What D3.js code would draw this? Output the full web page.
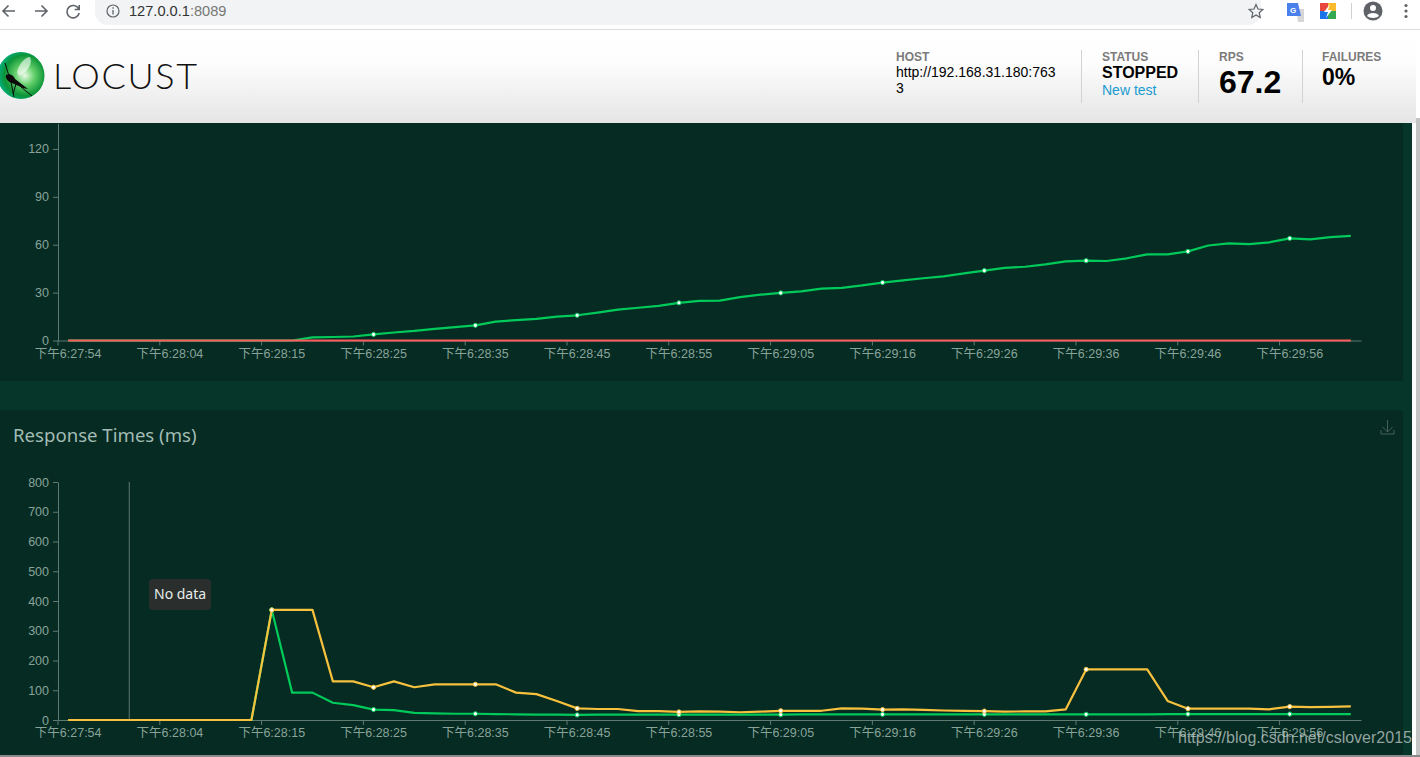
<!DOCTYPE html>
<html>
<head>
<meta charset="utf-8">
<title>Locust</title>
<style>
html, body { margin: 0; padding: 0; background: #fff; overflow: hidden; }
svg { display: block; font-family: "Liberation Sans", "Noto Sans CJK SC", sans-serif; }
.axis text { fill: #89a399; font-size: 12.5px; font-family: "Liberation Sans", "Noto Sans CJK SC", sans-serif; }
.axis path, .axis line { stroke: #5f7a71; }
</style>
<script src="https://cdnjs.cloudflare.com/ajax/libs/d3/7.8.5/d3.min.js"></script>
</head>
<body>
<div id="page"></div>
<script>
var categories = [
  '下午6:27:54','下午6:27:56','下午6:27:58','下午6:28:00','下午6:28:02',
  '下午6:28:04','下午6:28:06','下午6:28:08','下午6:28:11','下午6:28:13',
  '下午6:28:15','下午6:28:17','下午6:28:19','下午6:28:21','下午6:28:23',
  '下午6:28:25','下午6:28:27','下午6:28:29','下午6:28:31','下午6:28:33',
  '下午6:28:35','下午6:28:37','下午6:28:39','下午6:28:41','下午6:28:43',
  '下午6:28:45','下午6:28:47','下午6:28:49','下午6:28:51','下午6:28:53',
  '下午6:28:55','下午6:28:57','下午6:28:59','下午6:29:01','下午6:29:03',
  '下午6:29:05','下午6:29:07','下午6:29:09','下午6:29:12','下午6:29:14',
  '下午6:29:16','下午6:29:18','下午6:29:20','下午6:29:22','下午6:29:24',
  '下午6:29:26','下午6:29:28','下午6:29:30','下午6:29:32','下午6:29:34',
  '下午6:29:36','下午6:29:38','下午6:29:40','下午6:29:42','下午6:29:44',
  '下午6:29:46','下午6:29:48','下午6:29:50','下午6:29:52','下午6:29:54',
  '下午6:29:56','下午6:29:58','下午6:30:00','下午6:30:02'
];

var rps = [
  0,0,0,0,0,0,0,0,0,0,
  0,0,2,2.2,2.5,3.8,5,6,7.3,8.4,
  9.5,11.8,12.8,13.5,15,15.8,17.5,19.3,20.5,21.7,
  23.6,24.8,25,27.2,28.7,29.8,30.8,32.5,33,34.5,
  36.3,37.7,39,40.2,42,43.8,45.5,46.2,47.7,49.6,
  50,49.8,51.5,54,54,55.8,59.5,60.8,60.4,61.5,
  64,63.3,64.8,65.5
];
var failures = [
  0,0,0,0,0,0,0,0,0,0,0,0,0,0,0,0,
  0,0,0,0,0,0,0,0,0,0,0,0,0,0,0,0,
  0,0,0,0,0,0,0,0,0,0,0,0,0,0,0,0,
  0,0,0,0,0,0,0,0,0,0,0,0,0,0,0,0
];
var median = [
  0,0,0,0,0,0,0,0,0,0,
  370,92,92,58,50,35,33,24,22,21,
  21,20,19,18,18,17,18,18,18,18,
  18,18,18,18,18,18,19,19,19,19,
  19,19,19,19,19,19,19,19,19,19,
  19,19,19,19,20,20,20,20,20,20,
  20,20,20,20
];
var p95 = [
  0,0,0,0,0,0,0,0,0,0,
  370,370,370,130,130,110,130,110,120,120,
  120,120,92,87,64,39,37,37,30,30,
  27,29,28,26,28,31,31,31,39,38,
  35,36,34,32,31,30,28,29,29,36,
  170,170,170,170,64,38,38,38,38,36,
  45,43,44,46
];

var rpsTicks = [0, 30, 60, 90, 120];
var timeTicks = [0, 100, 200, 300, 400, 500, 600, 700, 800];

var svg = d3.select('#page').append('svg')
    .attr('width', 1420)
    .attr('height', 757);

var defs = svg.append('defs');
var headGrad = defs.append('linearGradient').attr('id', 'head-grad')
    .attr('x1', 0).attr('y1', 0).attr('x2', 0).attr('y2', 1);
headGrad.append('stop').attr('offset', '0%').attr('stop-color', '#ffffff');
headGrad.append('stop').attr('offset', '35%').attr('stop-color', '#fdfdfd');
headGrad.append('stop').attr('offset', '100%').attr('stop-color', '#e5e5e5');
var ballGrad = defs.append('radialGradient').attr('id', 'ball-grad')
    .attr('cx', '58%').attr('cy', '50%').attr('r', '60%');
ballGrad.append('stop').attr('offset', '0%').attr('stop-color', '#eafbe6');
ballGrad.append('stop').attr('offset', '35%').attr('stop-color', '#63cf6a');
ballGrad.append('stop').attr('offset', '72%').attr('stop-color', '#0c9438');
ballGrad.append('stop').attr('offset', '100%').attr('stop-color', '#00b48c');

// page background
svg.append('rect').attr('width', 1420).attr('height', 757).attr('fill', '#ffffff');
svg.append('rect').attr('x', 0).attr('y', 123).attr('width', 1412).attr('height', 632).attr('fill', '#06352a');
svg.append('rect').attr('x', 0).attr('y', 123).attr('width', 1403).attr('height', 258).attr('fill', '#052b23');
svg.append('rect').attr('x', 0).attr('y', 410).attr('width', 1403).attr('height', 345).attr('rx', 3).attr('fill', '#052b23');
svg.append('rect').attr('x', 0).attr('y', 755).attr('width', 1420).attr('height', 2).attr('fill', '#8a8a8a');
svg.append('rect').attr('x', 1416).attr('y', 118).attr('width', 4).attr('height', 637).attr('fill', '#c4c4c4');

var x = d3.scaleBand().domain(categories).range([58, 1361]);
var yRps = d3.scaleLinear().domain([0, 136]).range([340.5, 123.4]);
var yTime = d3.scaleLinear().domain([0, 800]).range([720, 482]);

function drawAxes(y, ticks) {
    var g = svg.append('g');
    var xAxis = d3.axisBottom(x)
        .tickValues(categories.filter(function(d, i) { return i % 5 === 0; }))
        .tickSize(5)
        .tickSizeOuter(0)
        .tickPadding(3.5);
    g.append('g')
        .attr('class', 'axis')
        .attr('transform', 'translate(0,' + y.range()[0] + ')')
        .call(xAxis)
        .selectAll('.tick line')
        .attr('transform', 'translate(' + (-x.bandwidth() / 2) + ',0)');
    g.append('g')
        .attr('class', 'axis')
        .attr('transform', 'translate(58,0)')
        .call(d3.axisLeft(y).tickValues(ticks).tickSize(5).tickSizeOuter(0).tickPadding(4));
}

function drawSeries(y, values, color, dots) {
    var line = d3.line()
        .x(function(d, i) { return x(categories[i]) + x.bandwidth() / 2; })
        .y(function(d) { return y(d); });
    var g = svg.append('g');
    g.append('path')
        .attr('d', line(values))
        .attr('fill', 'none')
        .attr('stroke', color)
        .attr('stroke-width', 2.2)
        .attr('stroke-linejoin', 'round');
    if (!dots) return;
    g.selectAll('circle')
        .data(values.map(function(v, i) { return {v: v, i: i}; })
            .filter(function(d) { return d.v > 0 && d.i % 5 === 0; }))
        .enter().append('circle')
        .attr('cx', function(d) { return x(categories[d.i]) + x.bandwidth() / 2; })
        .attr('cy', function(d) { return y(d.v); })
        .attr('r', 2.1)
        .attr('fill', '#ffffff')
        .attr('stroke', color)
        .attr('stroke-width', 1);
}

// RPS chart
drawAxes(yRps, rpsTicks);
drawSeries(yRps, rps, '#00ca5a', true);
drawSeries(yRps, failures, '#ff5a5f', false);

// response times chart
svg.append('text').attr('x', 13).attr('y', 442)
    .attr('fill', '#a3bcb3')
    .style('font-family', '"Noto Sans", sans-serif')
    .style('font-size', '18.6px')
    .text('Response Times (ms)');
drawAxes(yTime, timeTicks);
svg.append('line')
    .attr('x1', x(categories[3]) + x.bandwidth() / 2)
    .attr('x2', x(categories[3]) + x.bandwidth() / 2)
    .attr('y1', yTime(800)).attr('y2', yTime(0))
    .attr('stroke', '#5f7a71').attr('stroke-width', 1);
drawSeries(yTime, median, '#00ca5a', true);
drawSeries(yTime, p95, '#f7c13e', true);

// tooltip
svg.append('rect').attr('x', 149).attr('y', 579).attr('width', 62).attr('height', 31).attr('rx', 4).attr('fill', '#2a2f2d');
svg.append('text').attr('x', 154).attr('y', 599)
    .attr('fill', '#e8ecea')
    .style('font-family', '"Noto Sans", sans-serif')
    .style('font-size', '14px')
    .text('No data');

// download icon
svg.append('path')
    .attr('d', 'M1387.5 420v12M1382.5 427l5 5 5-5M1381 430v4h13v-4')
    .attr('fill', 'none').attr('stroke', '#47605a').attr('stroke-width', 1);

// watermark
svg.append('text').attr('x', 1178).attr('y', 743)
    .attr('fill', 'rgba(205,212,210,0.72)')
    .style('font-size', '16px')
    .text('https://blog.csdn.net/cslover2015');

// locust header
svg.append('rect').attr('x', 0).attr('y', 30).attr('width', 1416).attr('height', 93).attr('fill', 'url(#head-grad)');
svg.append('circle').attr('cx', 21).attr('cy', 75.5).attr('r', 23.5).attr('fill', 'url(#ball-grad)');
svg.append('path').attr('d', 'M17 72C19 64 25 57 30 57C33 63 28 72 19 76Z').attr('fill', '#ffffff').attr('opacity', 0.6);
svg.append('path').attr('d', 'M6 75C10 73 14 76 15 79L28 89L23 88L12 83C8 82 5 78 6 75Z').attr('fill', '#0b0b0b');
svg.append('path').attr('d', 'M5 63L9 76M11 82L14 97M16 84L13 94M21 87L32 96')
    .attr('fill', 'none').attr('stroke', '#0b0b0b').attr('stroke-width', 1);
svg.append('text').attr('x', 53).attr('y', 88.5)
    .attr('fill', '#111')
    .style('font-family', 'Lato, sans-serif')
    .style('font-weight', 300)
    .style('font-size', '36px')
    .attr('textLength', 144)
    .text('LOCUST');

var dividers = [1081, 1198, 1302];
svg.selectAll('.divider').data(dividers).enter().append('line')
    .attr('class', 'divider')
    .attr('x1', function(d) { return d + 0.5; }).attr('x2', function(d) { return d + 0.5; })
    .attr('y1', 50).attr('y2', 103)
    .attr('stroke', '#d2d2d2');

function label(xp, yp, txt, size, color, bold) {
    return svg.append('text').attr('x', xp).attr('y', yp)
        .attr('fill', color)
        .style('font-size', size + 'px')
        .style('font-weight', bold ? 'bold' : 'normal')
        .text(txt);
}
label(896, 61, 'HOST', 12, '#7b7b7b', true);
label(896, 77, 'http://192.168.31.180:763', 14, '#000', false);
label(896, 93, '3', 14, '#000', false);
label(1102, 61, 'STATUS', 12, '#7b7b7b', true);
label(1102, 78, 'STOPPED', 16, '#000', true);
label(1102, 95, 'New test', 14, '#1a9bd0', false);
label(1219, 61, 'RPS', 12, '#7b7b7b', true);
label(1219, 93, '67.2', 32, '#000', true);
label(1322, 61, 'FAILURES', 12, '#7b7b7b', true);
label(1322, 85, '0%', 23, '#000', true);

// browser bar
svg.append('rect').attr('x', 0).attr('y', 0).attr('width', 1420).attr('height', 29).attr('fill', '#ffffff');
svg.append('rect').attr('x', 0).attr('y', 29).attr('width', 1420).attr('height', 1).attr('fill', '#dcdcdc');
svg.append('rect').attr('x', 95).attr('y', -13).attr('width', 1166).attr('height', 38).attr('rx', 13).attr('fill', '#f1f3f4');
var icons = svg.append('g').attr('fill', 'none').attr('stroke', '#5f6368').attr('stroke-width', 1.6);
icons.append('path').attr('d', 'M15 11H3M8.5 5.5L3 11l5.5 5.5');
icons.append('path').attr('d', 'M35 11h12M41.5 5.5L47 11l-5.5 5.5');
icons.append('path').attr('d', 'M78.5 8.5A6.2 6.2 0 1 0 79.2 13M79.2 5v4.5h-4.5');
icons.append('circle').attr('cx', 113).attr('cy', 11).attr('r', 6).attr('stroke-width', 1.2);
icons.append('path').attr('d', 'M113 10v4.5M113 7.2v1.5').attr('stroke-width', 1.3);
icons.append('path').attr('d', 'M1256 4.5l2 4.5 4.8.5-3.6 3.2 1 4.8-4.2-2.5-4.2 2.5 1-4.8-3.6-3.2 4.8-.5z').attr('stroke-width', 1.2);
icons.append('line').attr('x1', 1351.5).attr('x2', 1351.5).attr('y1', 3).attr('y2', 19).attr('stroke', '#d0d0d0').attr('stroke-width', 1);
var addr = svg.append('text').attr('x', 129).attr('y', 16).style('font-size', '14.6px').attr('fill', '#333');
addr.append('tspan').text('127.0.0.1');
addr.append('tspan').attr('fill', '#777').text(':8089');

svg.append('path').attr('d', 'M1296 9h8v13h-6z').attr('fill', '#d6d6d6');
svg.append('path').attr('d', 'M1287 3h11l3 13h-14z').attr('fill', '#4a80ec');
svg.append('text').attr('x', 1290).attr('y', 13).attr('fill', '#fff').style('font-size', '8px').style('font-weight', 'bold').text('G');
svg.append('rect').attr('x', 1320).attr('y', 3).attr('width', 8).attr('height', 8).attr('fill', '#e8453c');
svg.append('rect').attr('x', 1328).attr('y', 3).attr('width', 8).attr('height', 8).attr('fill', '#f9bb2d');
svg.append('rect').attr('x', 1320).attr('y', 11).attr('width', 8).attr('height', 8).attr('fill', '#1a73e8');
svg.append('rect').attr('x', 1328).attr('y', 11).attr('width', 8).attr('height', 8).attr('fill', '#34a853');
svg.append('path').attr('d', 'M1330 4l-6 8h4l-2 6 6-8h-4z').attr('fill', '#fff');
svg.append('circle').attr('cx', 1373).attr('cy', 11).attr('r', 9.5).attr('fill', '#5f6368');
svg.append('circle').attr('cx', 1373).attr('cy', 8).attr('r', 3).attr('fill', '#fff');
svg.append('path').attr('d', 'M1367 16c1-4 11-4 12 0c-3 2.5-9 2.5-12 0z').attr('fill', '#fff');
var dotYs = [5.5, 11, 16.5];
svg.selectAll('.menu-dot').data(dotYs).enter().append('circle')
    .attr('class', 'menu-dot')
    .attr('cx', 1406).attr('cy', function(d) { return d; }).attr('r', 1.6).attr('fill', '#5f6368');
</script>
</body>
</html>
